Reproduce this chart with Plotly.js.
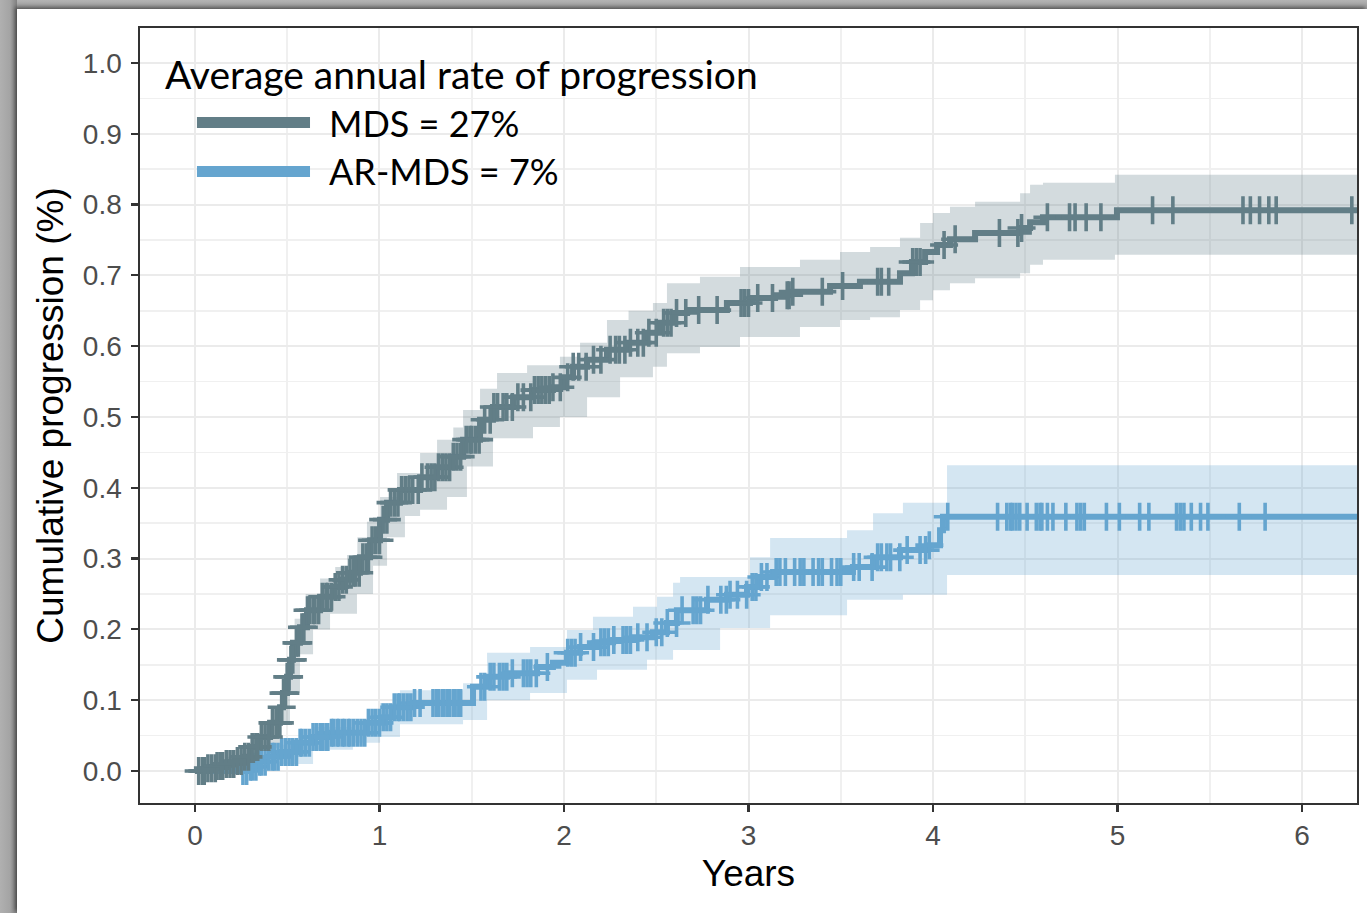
<!DOCTYPE html>
<html>
<head>
<meta charset="utf-8">
<script src="https://cdn.plot.ly/plotly-3.0.1.min.js"></script>
<style>
  html, body { margin: 0; padding: 0; width: 1367px; height: 913px; overflow: hidden;
    background: linear-gradient(to bottom, #b4b4b4 0px, #9a9a9a 9px); }
  #frame { position: absolute; left: 0; top: 0; width: 17px; height: 913px;
    background: linear-gradient(to right, #b0b0b0 0px, #a4a4a4 10px, #808080 17px); }
  #chart { position: absolute; left: 17px; top: 9px; width: 1350px; height: 904px; background: #fff;
    box-shadow: -2px -2px 4px rgba(0,0,0,0.45); }
</style>
</head>
<body>
<div id="frame"></div>
<div id="chart"></div>
<script>
// ---------- data ----------
const groups = ["MDS = 27%", "AR-MDS = 7%"];
const legendTitle = "Average annual rate of progression";

// MDS cumulative progression (step function)
const mdsTime = [0, 0.065, 0.119, 0.163, 0.217, 0.260, 0.298, 0.352, 0.407, 0.461, 0.477, 0.499, 0.515, 0.531, 0.569, 0.607, 0.678, 0.748, 0.797, 0.840, 0.894, 0.949, 1.003, 1.041, 1.111, 1.220, 1.312, 1.398, 1.453, 1.545, 1.615, 1.724, 1.832, 1.940, 1.995, 2.049, 2.125, 2.233, 2.341, 2.450, 2.520, 2.591, 2.667, 2.883, 3.008, 3.144, 3.225, 3.442, 3.604, 3.821, 3.886, 3.957, 4.022, 4.092, 4.228, 4.472, 4.526, 4.596, 4.997, 6.30];
const mdsCum = [0, 0.004, 0.007, 0.010, 0.014, 0.020, 0.034, 0.048, 0.068, 0.090, 0.110, 0.133, 0.157, 0.181, 0.203, 0.227, 0.246, 0.260, 0.270, 0.280, 0.302, 0.326, 0.355, 0.379, 0.397, 0.415, 0.429, 0.444, 0.468, 0.496, 0.514, 0.528, 0.538, 0.542, 0.556, 0.571, 0.581, 0.595, 0.605, 0.619, 0.633, 0.647, 0.651, 0.661, 0.668, 0.672, 0.677, 0.685, 0.691, 0.703, 0.719, 0.733, 0.743, 0.751, 0.760, 0.767, 0.775, 0.782, 0.792, 0.792];
const mdsUpperTime = [0, 0.065, 0.163, 0.260, 0.352, 0.420, 0.461, 0.490, 0.515, 0.540, 0.600, 0.678, 0.760, 0.824, 0.880, 0.932, 1.003, 1.095, 1.220, 1.312, 1.400, 1.453, 1.545, 1.637, 1.800, 1.978, 2.087, 2.233, 2.350, 2.482, 2.558, 2.737, 2.954, 3.279, 3.496, 3.659, 3.821, 3.930, 4.000, 4.092, 4.228, 4.472, 4.526, 4.596, 4.986, 6.30];
const mdsUpper = [0, 0.010, 0.020, 0.032, 0.065, 0.090, 0.112, 0.150, 0.185, 0.215, 0.250, 0.272, 0.288, 0.305, 0.330, 0.352, 0.387, 0.421, 0.449, 0.468, 0.485, 0.510, 0.540, 0.562, 0.573, 0.585, 0.605, 0.637, 0.650, 0.661, 0.689, 0.698, 0.712, 0.722, 0.733, 0.740, 0.753, 0.774, 0.788, 0.797, 0.804, 0.816, 0.828, 0.831, 0.842, 0.842];
const mdsLowerTime = [0, 0.260, 0.352, 0.461, 0.515, 0.569, 0.640, 0.732, 0.878, 0.965, 1.041, 1.138, 1.220, 1.366, 1.474, 1.615, 1.832, 1.978, 2.125, 2.304, 2.482, 2.558, 2.737, 2.954, 3.279, 3.496, 3.659, 3.821, 3.930, 4.000, 4.092, 4.228, 4.472, 4.526, 4.596, 4.986, 6.30];
const mdsLower = [0, 0.010, 0.033, 0.070, 0.110, 0.165, 0.200, 0.222, 0.250, 0.290, 0.330, 0.360, 0.369, 0.387, 0.430, 0.470, 0.486, 0.500, 0.528, 0.556, 0.571, 0.590, 0.599, 0.613, 0.627, 0.637, 0.641, 0.651, 0.665, 0.679, 0.689, 0.696, 0.703, 0.715, 0.722, 0.729, 0.729];
const mdsCensor = [0.02, 0.04, 0.05, 0.07, 0.09, 0.11, 0.12, 0.14, 0.15, 0.17, 0.19, 0.21, 0.23, 0.25, 0.27, 0.29, 0.31, 0.33, 0.34, 0.36, 0.38, 0.40, 0.42, 0.44, 0.45, 0.46, 0.47, 0.48, 0.49, 0.50, 0.51, 0.52, 0.53, 0.55, 0.56, 0.58, 0.59, 0.61, 0.62, 0.64, 0.65, 0.67, 0.69, 0.71, 0.72, 0.74, 0.76, 0.78, 0.80, 0.82, 0.84, 0.86, 0.87, 0.89, 0.91, 0.93, 0.94, 0.96, 0.98, 1.00, 1.02, 1.04, 1.06, 1.08, 1.10, 1.12, 1.14, 1.16, 1.18, 1.21, 1.23, 1.26, 1.28, 1.30, 1.32, 1.34, 1.36, 1.38, 1.40, 1.42, 1.44, 1.47, 1.49, 1.50, 1.52, 1.54, 1.57, 1.60, 1.62, 1.64, 1.67, 1.69, 1.72, 1.75, 1.78, 1.82, 1.84, 1.86, 1.88, 1.90, 1.92, 1.94, 1.98, 2.02, 2.05, 2.08, 2.12, 2.16, 2.20, 2.25, 2.28, 2.30, 2.33, 2.36, 2.40, 2.43, 2.46, 2.50, 2.54, 2.56, 2.58, 2.61, 2.66, 2.73, 2.83, 2.96, 2.98, 3.00, 3.05, 3.13, 3.21, 3.22, 3.24, 3.40, 3.51, 3.70, 3.72, 3.76, 3.89, 3.91, 3.93, 4.06, 4.12, 4.36, 4.46, 4.48, 4.62, 4.74, 4.77, 4.83, 4.91, 5.19, 5.30, 5.68, 5.72, 5.77, 5.82, 5.86, 6.27];

// AR-MDS cumulative progression (step function)
const arTime = [0, 0.282, 0.336, 0.390, 0.461, 0.553, 0.640, 0.732, 0.932, 1.019, 1.073, 1.182, 1.507, 1.583, 1.691, 1.854, 1.940, 2.016, 2.087, 2.179, 2.266, 2.374, 2.482, 2.558, 2.612, 2.775, 2.883, 2.992, 3.062, 3.133, 3.566, 3.675, 3.821, 3.967, 4.038, 4.054, 6.30];
const arCum = [0, 0.006, 0.013, 0.020, 0.027, 0.040, 0.048, 0.054, 0.068, 0.076, 0.090, 0.096, 0.119, 0.133, 0.138, 0.147, 0.153, 0.167, 0.175, 0.182, 0.185, 0.189, 0.196, 0.209, 0.227, 0.242, 0.249, 0.260, 0.274, 0.281, 0.288, 0.302, 0.312, 0.319, 0.340, 0.359, 0.359];
const arUpperTime = [0, 0.282, 0.461, 0.640, 0.856, 1.003, 1.111, 1.453, 1.583, 1.816, 2.016, 2.157, 2.374, 2.504, 2.591, 2.629, 3.008, 3.117, 3.534, 3.675, 3.837, 4.076, 6.30];
const arUpper = [0, 0.013, 0.037, 0.062, 0.069, 0.096, 0.114, 0.124, 0.167, 0.175, 0.199, 0.218, 0.232, 0.246, 0.266, 0.274, 0.302, 0.329, 0.340, 0.364, 0.379, 0.432, 0.432];
const arLowerTime = [0, 0.461, 0.640, 0.856, 1.003, 1.111, 1.453, 1.583, 1.816, 2.016, 2.179, 2.450, 2.591, 2.846, 3.117, 3.534, 3.837, 4.076, 6.30];
const arLower = [0, 0.010, 0.030, 0.040, 0.048, 0.066, 0.072, 0.100, 0.110, 0.129, 0.143, 0.157, 0.171, 0.202, 0.220, 0.242, 0.249, 0.277, 0.277];
const arCensor = [0.26, 0.28, 0.30, 0.31, 0.33, 0.35, 0.36, 0.38, 0.40, 0.42, 0.43, 0.45, 0.47, 0.49, 0.51, 0.53, 0.55, 0.57, 0.58, 0.60, 0.62, 0.64, 0.66, 0.68, 0.69, 0.71, 0.72, 0.74, 0.75, 0.77, 0.78, 0.80, 0.81, 0.83, 0.84, 0.86, 0.88, 0.90, 0.92, 0.94, 0.96, 0.98, 1.00, 1.02, 1.04, 1.06, 1.08, 1.10, 1.11, 1.13, 1.15, 1.17, 1.19, 1.22, 1.29, 1.31, 1.32, 1.34, 1.35, 1.37, 1.38, 1.40, 1.41, 1.43, 1.44, 1.55, 1.57, 1.60, 1.62, 1.65, 1.67, 1.69, 1.72, 1.78, 1.80, 1.82, 1.85, 1.91, 2.02, 2.04, 2.06, 2.09, 2.16, 2.20, 2.22, 2.24, 2.27, 2.32, 2.34, 2.36, 2.40, 2.45, 2.50, 2.53, 2.56, 2.61, 2.64, 2.70, 2.72, 2.74, 2.78, 2.85, 2.88, 2.90, 2.94, 2.99, 3.02, 3.04, 3.07, 3.10, 3.15, 3.17, 3.20, 3.25, 3.28, 3.30, 3.35, 3.38, 3.40, 3.45, 3.48, 3.50, 3.57, 3.60, 3.67, 3.70, 3.72, 3.75, 3.77, 3.82, 3.86, 3.93, 3.96, 3.98, 4.08, 4.35, 4.40, 4.42, 4.43, 4.45, 4.47, 4.51, 4.56, 4.58, 4.59, 4.62, 4.65, 4.72, 4.78, 4.80, 4.82, 4.94, 5.01, 5.12, 5.17, 5.32, 5.34, 5.36, 5.40, 5.45, 5.49, 5.66, 5.80];

const xTickVals = [0, 1, 2, 3, 4, 5, 6];
const yTickVals = [0, 0.1, 0.2, 0.3, 0.4, 0.5, 0.6, 0.7, 0.8, 0.9, 1.0];

// ---------- styling ----------
const mdsColor = "#627e87";
const arColor = "#65a5cf";
const mdsFill = "rgba(98,126,135,0.28)";
const arFill = "rgba(101,165,207,0.28)";

function stepAt(times, vals, t) {
  let v = vals[0];
  for (let i = 0; i < times.length; i++) { if (times[i] <= t) v = vals[i]; else break; }
  return v;
}

const traces = [
  {x: arLowerTime, y: arLower, type: "scatter", mode: "lines", line: {width: 0, shape: "hv"}, hoverinfo: "skip", showlegend: false},
  {x: arUpperTime, y: arUpper, type: "scatter", mode: "lines", line: {width: 0, shape: "hv"}, fill: "tonexty", fillcolor: arFill, hoverinfo: "skip", showlegend: false},
  {x: mdsLowerTime, y: mdsLower, type: "scatter", mode: "lines", line: {width: 0, shape: "hv"}, hoverinfo: "skip", showlegend: false},
  {x: mdsUpperTime, y: mdsUpper, type: "scatter", mode: "lines", line: {width: 0, shape: "hv"}, fill: "tonexty", fillcolor: mdsFill, hoverinfo: "skip", showlegend: false},
  {x: arTime, y: arCum, type: "scatter", mode: "lines", name: groups[1], line: {color: arColor, width: 6, shape: "hv"}, showlegend: false},
  {x: arCensor, y: arCensor.map(t => stepAt(arTime, arCum, t)), type: "scatter", mode: "markers",
   marker: {symbol: "cross-thin", size: 20, color: arColor, line: {color: arColor, width: 3.6}}, showlegend: false, hoverinfo: "skip"},
  {x: mdsTime, y: mdsCum, type: "scatter", mode: "lines", name: groups[0], line: {color: mdsColor, width: 6, shape: "hv"}, showlegend: false},
  {x: mdsCensor, y: mdsCensor.map(t => stepAt(mdsTime, mdsCum, t)), type: "scatter", mode: "markers",
   marker: {symbol: "cross-thin", size: 20, color: mdsColor, line: {color: mdsColor, width: 3.6}}, showlegend: false, hoverinfo: "skip"}
];

const tickFont = {family: "Liberation Sans, Arial, sans-serif", size: 28, color: "#4d4d4d"};
const titleFont = {family: "Liberation Sans, Arial, sans-serif", size: 37, color: "#000000"};
const legTitleFont = {family: "Lato, sans-serif", size: 39, color: "#000000"};
const legFont = {family: "Lato, sans-serif", size: 36, color: "#000000"};

// legend placement in paper coordinates
const legX0 = 0.0468, legX1 = 0.1397, legTextX = 0.154;
const legY = [0.878, 0.815];

const layout = {
  width: 1350, height: 904,
  margin: {l: 123, r: 10, t: 19, b: 110},
  paper_bgcolor: "#ffffff",
  plot_bgcolor: "#ffffff",
  showlegend: false,
  xaxis: {
    range: [-0.298, 6.298], tickvals: xTickVals, ticktext: xTickVals.map(String),
    showgrid: true, gridcolor: "#ebebeb", gridwidth: 2,
    minor: {dtick: 0.5, tick0: 0, showgrid: true, gridcolor: "#f0f0f0", gridwidth: 1.6, ticks: ""},
    zeroline: false, showline: true, mirror: true, linecolor: "#333333", linewidth: 1.6,
    ticks: "outside", ticklen: 7, tickwidth: 2.2, tickcolor: "#333333",
    tickfont: tickFont,
    title: {text: "Years", font: titleFont, standoff: 10}
  },
  yaxis: {
    range: [-0.0452, 1.0494], tickvals: yTickVals, ticktext: yTickVals.map(v => v.toFixed(1)),
    showgrid: true, gridcolor: "#ebebeb", gridwidth: 2,
    minor: {dtick: 0.05, tick0: 0, showgrid: true, gridcolor: "#f0f0f0", gridwidth: 1.6, ticks: ""},
    zeroline: false, showline: true, mirror: true, linecolor: "#333333", linewidth: 1.6,
    ticks: "outside", ticklen: 7, tickwidth: 2.2, tickcolor: "#333333",
    ticklabelstandoff: 4,
    tickfont: tickFont,
    title: {text: "Cumulative progression (%)", font: titleFont, standoff: 8}
  },
  shapes: [
    {type: "line", xref: "paper", yref: "paper", x0: legX0, x1: legX1, y0: legY[0], y1: legY[0], line: {color: mdsColor, width: 11}},
    {type: "line", xref: "paper", yref: "paper", x0: legX0, x1: legX1, y0: legY[1], y1: legY[1], line: {color: arColor, width: 11}}
  ],
  annotations: [
    {text: legendTitle, xref: "paper", yref: "paper", x: 0.0189, y: 0.941, xanchor: "left", yanchor: "middle", showarrow: false, font: legTitleFont},
    {text: groups[0], xref: "paper", yref: "paper", x: legTextX, y: legY[0], xanchor: "left", yanchor: "middle", showarrow: false, font: legFont},
    {text: groups[1], xref: "paper", yref: "paper", x: legTextX, y: legY[1], xanchor: "left", yanchor: "middle", showarrow: false, font: legFont}
  ]
};

Plotly.newPlot("chart", traces, layout, {displayModeBar: false, staticPlot: true});
</script>
</body>
</html>
